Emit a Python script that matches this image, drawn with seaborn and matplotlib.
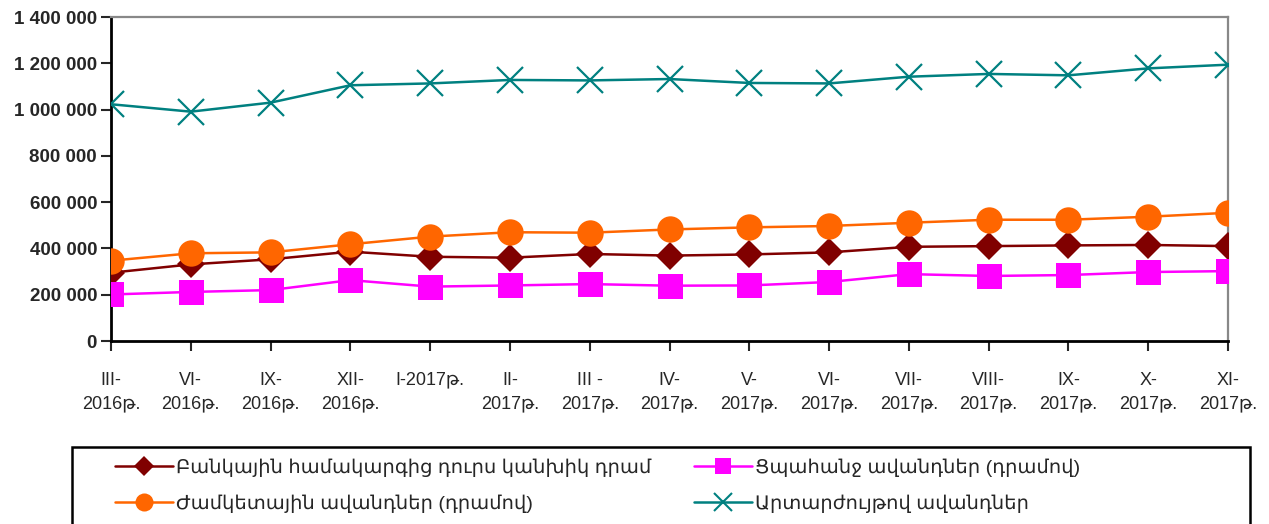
import numpy as np
import pandas as pd
import matplotlib
matplotlib.use('Agg')
import matplotlib.pyplot as plt
from matplotlib.lines import Line2D
from matplotlib.patches import Rectangle
import seaborn as sns

# data
periods = ['III-\n2016թ.', 'VI-\n2016թ.', 'IX-\n2016թ.', 'XII-\n2016թ.', 'I-2017թ.\n ',
           'II-\n2017թ.', 'III -\n2017թ.', 'IV-\n2017թ.', 'V-\n2017թ.', 'VI-\n2017թ.',
           'VII-\n2017թ.', 'VIII-\n2017թ.', 'IX-\n2017թ.', 'X-\n2017թ.', 'XI-\n2017թ.']

cash_outside = [295000, 331000, 353000, 386000, 364000, 360000, 376000, 369000,
                374000, 383000, 407000, 410000, 413000, 415000, 410000]
demand_dep = [201000, 212000, 220000, 263000, 235000, 240000, 246000, 239000,
              240000, 255000, 289000, 281000, 285000, 298000, 302000]
time_dep = [347000, 379000, 383000, 418000, 451000, 470000, 468000, 482000,
            491000, 497000, 511000, 524000, 524000, 537000, 554000]
fx_dep = [1023000, 991000, 1030000, 1105000, 1113000, 1128000, 1126000, 1132000,
          1115000, 1113000, 1142000, 1154000, 1148000, 1178000, 1194000]

names = ['Բանկային համակարգից դուրս կանխիկ դրամ',
         'Ժամկետային ավանդներ (դրամով)',
         'Ցպահանջ ավանդներ (դրամով)',
         'Արտարժույթով ավանդներ']

sns.set_style('ticks')
plt.rcParams['font.family'] = ['Liberation Sans', 'DejaVu Sans']

fig = plt.figure(figsize=(12.69, 5.24), dpi=100)
ax = fig.add_axes([111 / 1269, 1 - 341 / 524, (1228 - 111) / 1269, (341 - 17) / 524])

x = np.arange(len(periods))
df = pd.DataFrame({'x': x, 'cash': cash_outside, 'demand': demand_dep,
                   'time': time_dep, 'fx': fx_dep})

sns.lineplot(data=df, x='x', y='cash', ax=ax, color='#800000', lw=1.8,
             marker='D', markersize=14, markeredgewidth=0, zorder=3)
sns.lineplot(data=df, x='x', y='demand', ax=ax, color='#FF00FF', lw=1.8,
             marker='s', markersize=18, markeredgewidth=0, zorder=3)
sns.lineplot(data=df, x='x', y='time', ax=ax, color='#FF6600', lw=1.8,
             marker='o', markersize=19, markeredgewidth=0, zorder=4)
sns.lineplot(data=df, x='x', y='fx', ax=ax, color='#008080', lw=1.8,
             marker='x', markersize=19, markeredgewidth=1.6,
             markeredgecolor='#008080', zorder=5)

ax.set_xlim(0, len(periods) - 1)
ax.set_ylim(0, 1400000)
ax.set_yticks(np.arange(0, 1400001, 200000))
ax.set_yticklabels([f'{int(v):,}'.replace(',', ' ') for v in np.arange(0, 1400001, 200000)],
                   fontsize=13.5, fontweight='bold')
ax.set_xticks(x)
ax.set_xticklabels(periods, fontsize=13, linespacing=1.55, va='top')
ax.tick_params(axis='x', length=7, width=1.5, pad=15, direction='out')
ax.tick_params(axis='y', length=7, width=1.5, pad=3, direction='out')
ax.set_xlabel('')
ax.set_ylabel('')

for s in ['left', 'bottom']:
    ax.spines[s].set_color('black')
    ax.spines[s].set_linewidth(2)
for s in ['top', 'right']:
    ax.spines[s].set_color('#888888')
    ax.spines[s].set_linewidth(1.6)

# legend
handles = [
    Line2D([], [], color='#800000', lw=1.8, marker='D', markersize=10, markeredgewidth=0),
    Line2D([], [], color='#FF6600', lw=1.8, marker='o', markersize=13, markeredgewidth=0),
    Line2D([], [], color='#FF00FF', lw=1.8, marker='s', markersize=11, markeredgewidth=0),
    Line2D([], [], color='#008080', lw=1.8, marker='x', markersize=13, markeredgewidth=1.5),
]
fig.legend(handles, names, loc='upper left', bbox_to_anchor=(97 / 1269, 1 - 441 / 524),
           ncol=2, frameon=False, fontsize=14, handlelength=3.0, handletextpad=0.15,
           labelspacing=0.9, columnspacing=2.2)
fig.patches.append(Rectangle((72 / 1269, -0.05), (1250 - 72) / 1269, 0.05 + 77 / 524,
                             transform=fig.transFigure, fill=False, edgecolor='black',
                             linewidth=1.8))

fig.savefig('out.png', dpi=100)
